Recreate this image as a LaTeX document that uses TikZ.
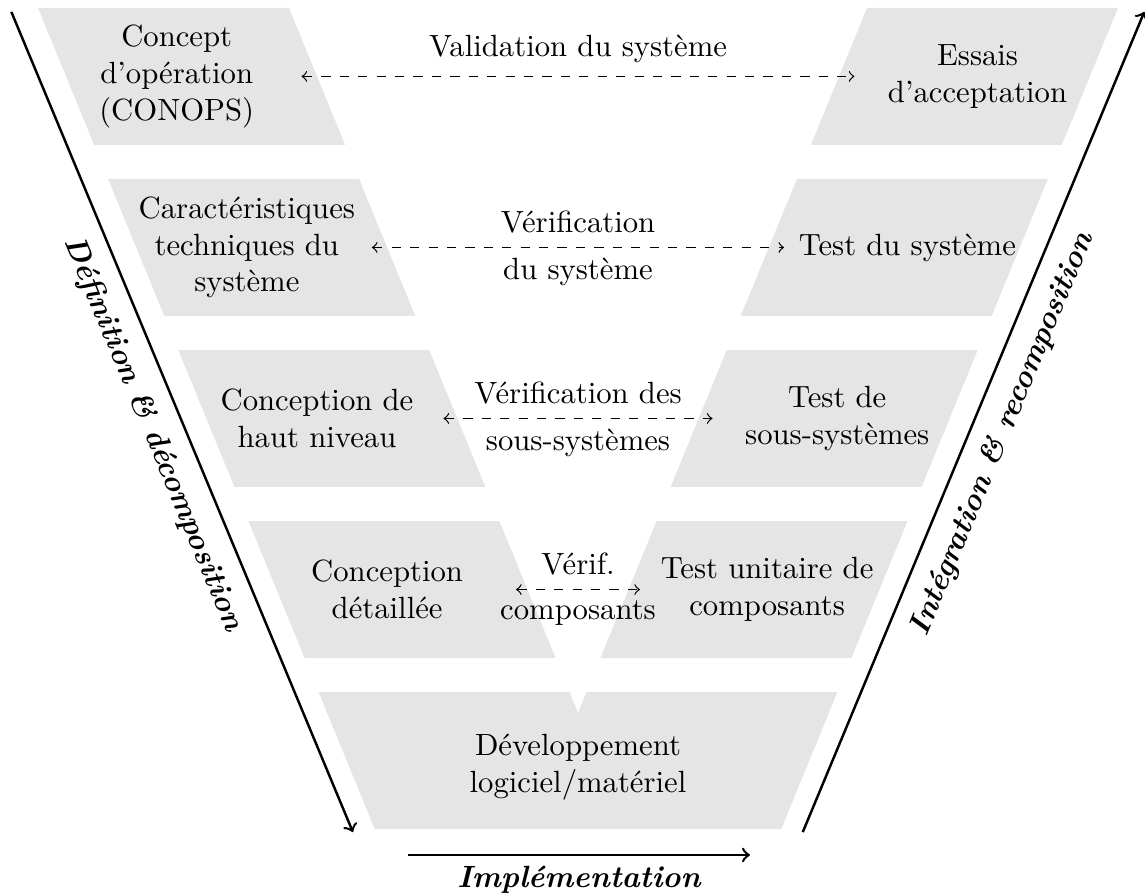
\documentclass[tikz,border=0pt]{standalone}
\usepackage{fontspec}

\begin{document}
\begin{tikzpicture}[
		box/.style={fill=gray!20},
		txt/.style={align=center},
		vlink/.style={<->, dashed},
		phase/.style={->, thick},
		phaselabel/.style={font=\bfseries\itshape}
	]
		\useasboundingbox (0, 0) rectangle (13.108, 10.246);

		% Left branch boxes
		\fill[box] (0.435, 10.155) -- ++(2.873, 0) -- ++(0.643, -1.568) -- ++(-2.873, 0) -- cycle;
		\fill[box] (1.238, 8.197) -- ++(2.873, 0) -- ++(0.643, -1.568) -- ++(-2.873, 0) -- cycle;
		\fill[box] (2.041, 6.239) -- ++(2.873, 0) -- ++(0.643, -1.568) -- ++(-2.873, 0) -- cycle;
		\fill[box] (2.844, 4.281) -- ++(2.873, 0) -- ++(0.643, -1.568) -- ++(-2.873, 0) -- cycle;

		% Right branch boxes
		\fill[box] (12.799, 10.155) -- ++(-2.873, 0) -- ++(-0.643, -1.568) -- ++(2.873, 0) -- cycle;
		\fill[box] (11.996, 8.197) -- ++(-2.873, 0) -- ++(-0.643, -1.568) -- ++(2.873, 0) -- cycle;
		\fill[box] (11.193, 6.239) -- ++(-2.873, 0) -- ++(-0.643, -1.568) -- ++(2.873, 0) -- cycle;
		\fill[box] (10.390, 4.281) -- ++(-2.873, 0) -- ++(-0.643, -1.568) -- ++(2.873, 0) -- cycle;

		% Bottom box
		\fill[box] (3.647, 2.323) -- (6.520, 2.323) -- (6.617, 2.086) -- (6.714, 2.323) -- (9.587, 2.323) -- (8.944, 0.755) -- (4.290, 0.755) -- cycle;

		\node[txt] (conops) at (2.023, 9.371) {Concept\\d’opération\\(CONOPS)};
		\node[txt] (caract) at (2.826, 7.413) {Caractéristiques\\techniques du\\système};
		\node[txt] (hautniv) at (3.629, 5.455) {Conception de\\haut niveau};
		\node[txt] (detail) at (4.432, 3.497) {Conception\\détaillée};
		\node[txt] (essais) at (11.191, 9.371) {Essais\\d’acceptation};
		\node[txt] (testsys) at (10.388, 7.413) {Test du système};
		\node[txt] (testsous) at (9.585, 5.455) {Test de\\sous-systèmes};
		\node[txt] (unitaire) at (8.782, 3.497) {Test unitaire de\\composants};
		\node[txt] (dev) at (6.617, 1.465) {Développement\\logiciel/matériel};

		% Verification links
		\coordinate (v1a) at (3.452, 9.371);
		\coordinate (v1b) at (9.782, 9.371);
		\coordinate (v2a) at (4.257, 7.413);
		\coordinate (v2b) at (8.977, 7.413);
		\coordinate (v3a) at (5.077, 5.455);
		\coordinate (v3b) at (8.157, 5.455);
		\coordinate (v4a) at (5.907, 3.497);
		\coordinate (v4b) at (7.327, 3.497);

		\draw[vlink] (v1a) -- (v1b) node[midway, above=1pt]{Validation du système};
		\draw[vlink] (v2a) -- (v2b) node[midway, above=1pt]{Vérification} node[midway, below=0pt]{du système};
		\draw[vlink] (v3a) -- (v3b) node[midway, above=1pt]{Vérification des} node[midway, below=0pt]{sous-systèmes};
		\draw[vlink] (v4a) -- (v4b) node[midway, above=1pt]{Vérif.} node[midway, below=0pt]{composants};

		% Phases
		\coordinate (deftop) at (0.13, 10.11);
		\coordinate (defbot) at (4.04, 0.72);
		\coordinate (intbot) at (9.19, 0.72);
		\coordinate (inttop) at (13.10, 10.11);
		\coordinate (impa) at (4.671, 0.458);
		\coordinate (impb) at (8.586, 0.458);

		\draw[phase] (deftop) -- (defbot) node[midway, below=2pt, sloped, phaselabel]{Définition \& décomposition};
		\draw[phase] (intbot) -- (inttop) node[midway, below=2pt, sloped, phaselabel]{Intégration \& recomposition};
		\draw[phase] (impa) -- (impb) node[midway, below, phaselabel]{Implémentation};
	\end{tikzpicture}
\end{document}
